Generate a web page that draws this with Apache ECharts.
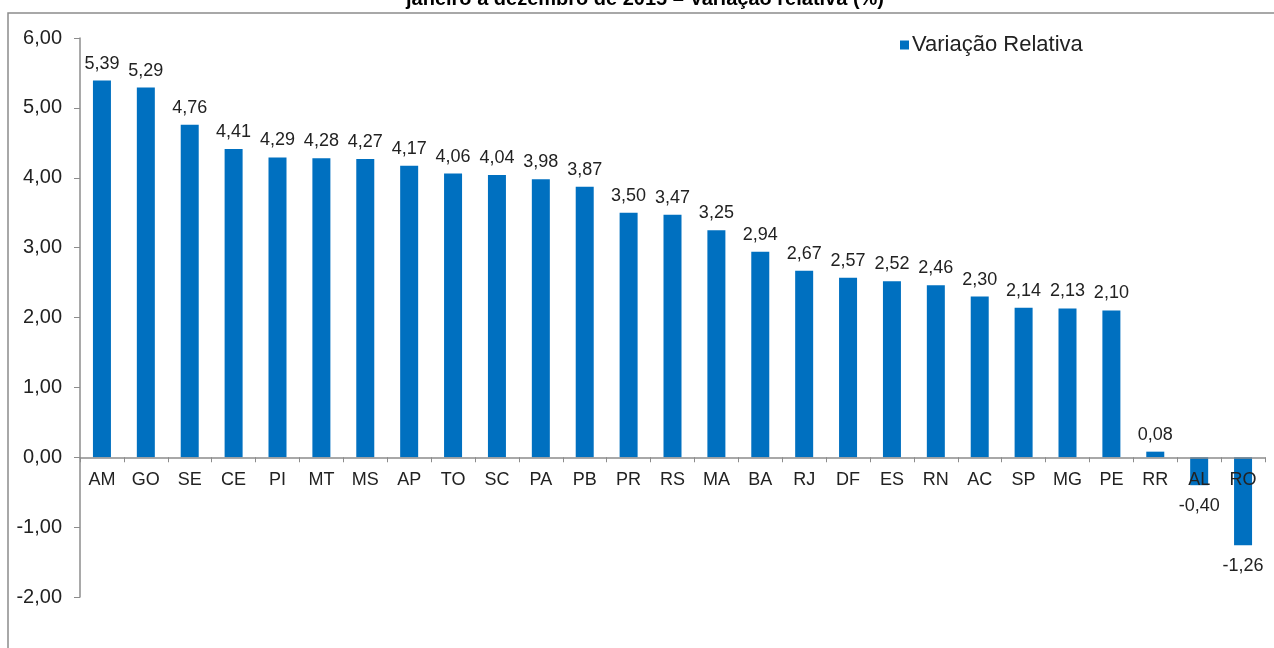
<!DOCTYPE html>
<html>
<head>
<meta charset="utf-8">
<script src="https://cdn.jsdelivr.net/npm/echarts@6/dist/echarts.min.js"></script>
<style>
html, body { margin: 0; padding: 0; background: #fff; }
#chart { width: 1274px; height: 648px; }
</style>
</head>
<body>
<div id="chart"></div>
<script>
var estados = ['AM', 'GO', 'SE', 'CE', 'PI', 'MT', 'MS', 'AP', 'TO', 'SC', 'PA', 'PB', 'PR', 'RS',
    'MA', 'BA', 'RJ', 'DF', 'ES', 'RN', 'AC', 'SP', 'MG', 'PE', 'RR', 'AL', 'RO'];
var variacao = [5.39, 5.29, 4.76, 4.41, 4.29, 4.28, 4.27, 4.17, 4.06, 4.04, 3.98, 3.87, 3.50, 3.47,
    3.25, 2.94, 2.67, 2.57, 2.52, 2.46, 2.30, 2.14, 2.13, 2.10, 0.08, -0.40, -1.26];
var titulo = 'janeiro a dezembro de 2015 – Variação relativa (%)';
var nomeSerie = 'Variação Relativa';

var fonte = '"Liberation Sans", Arial, sans-serif';
var yMin = -2, yMax = 6;
var gridTop = 38, gridBottom = 51, alturaTotal = 648;

function fmt(v) {
    return Number(v).toFixed(2).replace('.', ',');
}

// eixo x desenhado na linha do zero (rótulos junto com a linha)
var alturaGrid = alturaTotal - gridTop - gridBottom;
var deslocZero = -alturaGrid * (0 - yMin) / (yMax - yMin);

var dados = variacao.map(function (v) {
    return {
        value: v,
        label: v < 0 ? { position: 'bottom', distance: 12 } : { position: 'top', distance: 8 }
    };
});

var chart = echarts.init(document.getElementById('chart'));
chart.setOption({
    animation: false,
    backgroundColor: '#fff',
    textStyle: { fontFamily: fonte },
    graphic: [
        {
            type: 'rect',
            shape: { x: 8, y: 13, width: 1400, height: 800 },
            style: { fill: 'none', stroke: '#8c8c8c', lineWidth: 1.5 },
            z: -1
        },
        {
            type: 'text',
            x: 645, y: 9,
            style: {
                text: titulo,
                align: 'center',
                verticalAlign: 'bottom',
                font: 'bold 20px ' + fonte,
                fill: '#000'
            }
        }
    ],
    legend: {
        left: 895,
        top: 29,
        icon: 'rect',
        itemWidth: 9,
        itemHeight: 9,
        itemGap: 4,
        textStyle: { fontSize: 22, color: '#222', fontFamily: fonte, padding: [0, 0, 0, -2] },
        data: [nomeSerie]
    },
    grid: { left: 80, right: 9, top: gridTop, bottom: gridBottom },
    xAxis: {
        type: 'category',
        data: estados,
        z: 3,
        position: 'bottom',
        offset: deslocZero,
        axisLine: { onZero: false, lineStyle: { color: '#8c8c8c', width: 1.5 } },
        axisTick: { show: true, length: 5, lineStyle: { color: '#8c8c8c' } },
        axisLabel: { margin: 14, fontSize: 18, color: '#222', fontFamily: fonte, interval: 0 },
        splitLine: { show: false }
    },
    yAxis: {
        type: 'value',
        min: yMin,
        max: yMax,
        interval: 1,
        axisLine: { show: true, lineStyle: { color: '#8c8c8c', width: 1.5 } },
        axisTick: { show: true, length: 6, lineStyle: { color: '#8c8c8c' } },
        axisLabel: { margin: 18, fontSize: 20, color: '#222', fontFamily: fonte, formatter: fmt },
        splitLine: { show: false }
    },
    series: [{
        name: nomeSerie,
        type: 'bar',
        barWidth: 18,
        data: dados,
        itemStyle: { color: '#0070c0' },
        label: {
            show: true,
            fontSize: 18,
            color: '#222',
            fontFamily: fonte,
            formatter: function (p) { return fmt(p.value); }
        }
    }]
});
</script>
</body>
</html>
